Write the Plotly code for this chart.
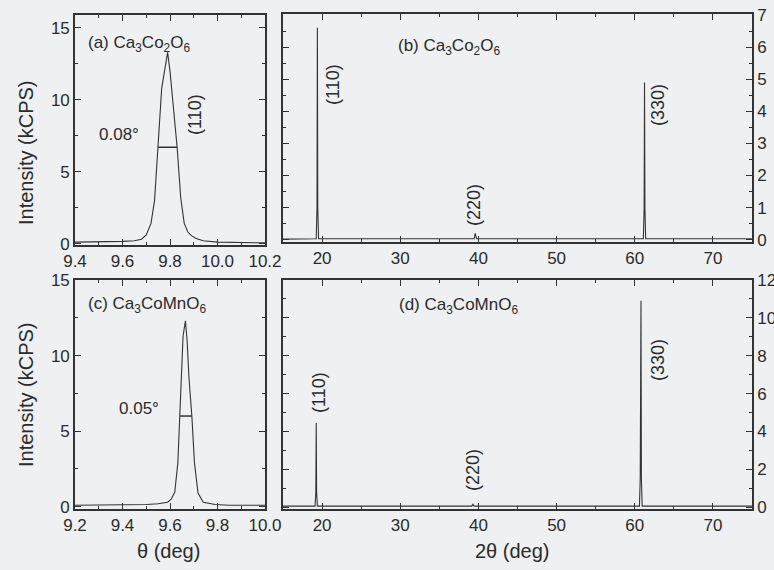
import plotly.graph_objects as go

# ---------------- data ----------------
# (a) theta scan, Ca3Co2O6 (110)
theta_a = [9.40, 9.50, 9.60, 9.65, 9.68, 9.70, 9.72, 9.735, 9.75, 9.765, 9.775, 9.79,
           9.80, 9.81, 9.83, 9.845, 9.86, 9.875, 9.89, 9.91, 9.94, 10.0, 10.1, 10.2]
int_a = [0.10, 0.10, 0.15, 0.20, 0.30, 0.60, 1.40, 3.0, 6.7, 10.8, 11.8, 13.3,
         12.0, 10.3, 6.7, 3.2, 1.4, 0.8, 0.55, 0.35, 0.20, 0.10, 0.05, 0.05]
fwhm_x_a = [9.75, 9.83]
fwhm_y_a = [6.7, 6.7]

# (b) 2theta scan, Ca3Co2O6
tth_b = [15, 19.25, 19.35, 19.4, 19.45, 19.55, 39.45, 39.6, 39.75, 61.1, 61.2, 61.25, 61.3, 61.4, 75]
int_b = [0.02, 0.03, 1.0, 6.6, 1.0, 0.03, 0.03, 0.2, 0.03, 0.03, 1.0, 4.9, 1.0, 0.03, 0.03]

# (c) theta scan, Ca3CoMnO6 (110)
theta_c = [9.20, 9.30, 9.40, 9.50, 9.55, 9.59, 9.605, 9.62, 9.633, 9.640, 9.648, 9.655,
           9.665, 9.672, 9.680, 9.692, 9.703, 9.718, 9.74, 9.79, 9.85, 9.90, 10.0]
int_c = [0.10, 0.10, 0.10, 0.15, 0.20, 0.30, 0.50, 0.95, 2.9, 6.0, 9.5, 11.3,
         12.3, 11.0, 8.5, 6.0, 2.9, 0.9, 0.3, 0.15, 0.10, 0.10, 0.10]
fwhm_x_c = [9.642, 9.692]
fwhm_y_c = [6.0, 6.0]

# (d) 2theta scan, Ca3CoMnO6
tth_d = [15, 19.1, 19.2, 19.25, 19.3, 19.4, 39.15, 39.3, 39.45, 60.6, 60.7, 60.8, 60.85, 60.95, 75]
int_d = [0.05, 0.05, 0.8, 4.45, 0.8, 0.05, 0.05, 0.15, 0.05, 0.05, 1.5, 10.9, 1.5, 0.05, 0.05]

labels = {
    "a": "(a) Ca<sub>3</sub>Co<sub>2</sub>O<sub>6</sub>",
    "b": "(b) Ca<sub>3</sub>Co<sub>2</sub>O<sub>6</sub>",
    "c": "(c) Ca<sub>3</sub>CoMnO<sub>6</sub>",
    "d": "(d) Ca<sub>3</sub>CoMnO<sub>6</sub>",
}
fwhm_text = {"a": "0.08°", "c": "0.05°"}

# ---------------- style ----------------
W, H = 774, 570
BG = "#eef0f2"
INK = "#2b2b2b"
LINE = "#333333"
FONT = "Liberation Sans, Arial, sans-serif"


def px(x):
    return x / W


def py(y):
    return 1 - y / H


fig = go.Figure()
line_style = dict(color=LINE, width=1.1)
fig.add_trace(go.Scatter(x=theta_a, y=int_a, mode="lines", line=line_style, xaxis="x", yaxis="y"))
fig.add_trace(go.Scatter(x=fwhm_x_a, y=fwhm_y_a, mode="lines", line=dict(color=LINE, width=1.5), xaxis="x", yaxis="y"))
fig.add_trace(go.Scatter(x=tth_b, y=int_b, mode="lines", line=line_style, xaxis="x2", yaxis="y2"))
fig.add_trace(go.Scatter(x=theta_c, y=int_c, mode="lines", line=line_style, xaxis="x3", yaxis="y3"))
fig.add_trace(go.Scatter(x=fwhm_x_c, y=fwhm_y_c, mode="lines", line=dict(color=LINE, width=1.5), xaxis="x3", yaxis="y3"))
fig.add_trace(go.Scatter(x=tth_d, y=int_d, mode="lines", line=line_style, xaxis="x4", yaxis="y4"))


def ax(domain, rng, dtick, minor, anchor, side=None, fmt=None):
    d = dict(domain=domain, range=rng, dtick=dtick, tick0=0, anchor=anchor, automargin=False,
             showline=True, linecolor=LINE, linewidth=1.6, mirror="allticks",
             ticks="inside", ticklen=6, tickwidth=1.2, tickcolor=LINE,
             minor=dict(ticks="inside", ticklen=3, tickwidth=1.0, tickcolor=LINE, dtick=minor, tick0=0),
             showgrid=False, zeroline=False,
             tickfont=dict(family=FONT, size=17, color=INK))
    if side:
        d["side"] = side
    if fmt:
        d["tickformat"] = fmt
    return d


xa_dom = [px(75), px(265)]
xb_dom = [px(283), px(752)]
a_dom = [py(245), py(15)]
b_dom = [py(242), py(14)]
bot_dom = [py(509), py(280)]

fig.update_layout(
    width=W, height=H,
    margin=dict(l=0, r=0, t=0, b=0, pad=0),
    paper_bgcolor=BG, plot_bgcolor=BG,
    showlegend=False,
    font=dict(family=FONT, color=INK),
    xaxis=ax(xa_dom, [9.4, 10.2], 0.2, 0.1, "y", fmt=".1f"),
    yaxis=ax(a_dom, [-0.1, 15.9], 5, 2.5, "x"),
    xaxis2=ax(xb_dom, [15, 75], 10, 5, "y2"),
    yaxis2=ax(b_dom, [-0.07, 7.03], 1, 0.5, "x2", side="right"),
    xaxis3=ax(xa_dom, [9.2, 10.0], 0.2, 0.1, "y3", fmt=".1f"),
    yaxis3=ax(bot_dom, [-0.15, 15], 5, 2.5, "x3"),
    xaxis4=ax(xb_dom, [15, 75], 10, 5, "y4"),
    yaxis4=ax(bot_dom, [-0.1, 12], 2, 1, "x4", side="right"),
)

anns = []


def add(text, x, y, size=17, angle=0, xanchor="center", yanchor="middle"):
    anns.append(dict(text=text, x=px(x), y=py(y), xref="paper", yref="paper",
                     showarrow=False, textangle=angle, xanchor=xanchor, yanchor=yanchor,
                     font=dict(family=FONT, size=size, color=INK)))


add(labels["a"], 86, 44, xanchor="left")
add(labels["b"], 396, 47, xanchor="left")
add(labels["c"], 86, 305, xanchor="left")
add(labels["d"], 397, 306, xanchor="left")
add(fwhm_text["a"], 119, 135)
add(fwhm_text["c"], 139, 408)
for (x, y) in [(195, 115), (333, 85), (319, 393)]:
    add("(110)", x, y, size=18, angle=-90)
for (x, y) in [(474, 205), (473, 470)]:
    add("(220)", x, y, size=18, angle=-90)
for (x, y) in [(658, 105), (658, 360)]:
    add("(330)", x, y, size=18, angle=-90)
add("Intensity (kCPS)", 26, 153, size=20, angle=-90)
add("Intensity (kCPS)", 26, 395, size=20, angle=-90)
add("θ (deg)", 168, 551, size=20)
add("2θ (deg)", 512, 551, size=20)

fig.update_layout(annotations=anns)
fig.write_html(
    "out.html",
    config={"displayModeBar": False},
    post_script="document.body.style.margin='0';document.body.style.padding='0';"
                "document.body.style.overflow='hidden';document.body.style.background='" + BG + "';",
)
